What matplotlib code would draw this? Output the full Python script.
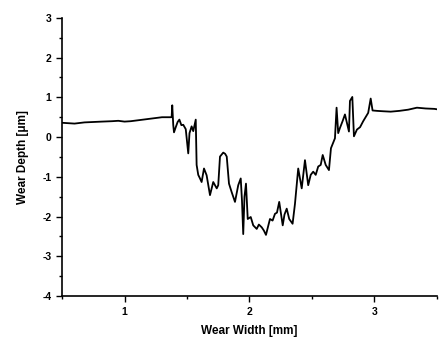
import numpy as np
import matplotlib
matplotlib.use('Agg')
import matplotlib.pyplot as plt
from matplotlib.ticker import MultipleLocator

plt.rcParams.update({
    'font.family': 'sans-serif',
    'font.sans-serif': ['Liberation Sans', 'DejaVu Sans'],
    'font.weight': 'bold',
    'font.size': 7.5,
    'axes.unicode_minus': False,
    'xtick.direction': 'out',
    'ytick.direction': 'out',
})

# wear profile (mm, um)
width_mm = [0.50, 0.55, 0.60, 0.68, 0.75, 0.82, 0.90, 0.95, 1.00, 1.05, 1.10, 1.15,
            1.20, 1.25, 1.30, 1.35, 1.377, 1.382, 1.39, 1.396, 1.41, 1.425, 1.439,
            1.455, 1.47, 1.49, 1.51, 1.52, 1.537, 1.55, 1.57, 1.577, 1.59, 1.604,
            1.617, 1.636, 1.657, 1.67, 1.684, 1.71, 1.738, 1.75, 1.764, 1.79, 1.805,
            1.818, 1.836, 1.857, 1.884, 1.91, 1.93, 1.94, 1.95, 1.96, 1.972, 1.986,
            2.01, 2.03, 2.058, 2.075, 2.098, 2.115, 2.132, 2.164, 2.185, 2.204,
            2.22, 2.238, 2.266, 2.28, 2.298, 2.318, 2.345, 2.364, 2.39, 2.418,
            2.444, 2.47, 2.49, 2.51, 2.53, 2.55, 2.57, 2.586, 2.61, 2.636, 2.652,
            2.684, 2.697, 2.71, 2.724, 2.745, 2.764, 2.796, 2.804, 2.823, 2.836,
            2.86, 2.885, 2.91, 2.95, 2.97, 2.985, 3.02, 3.07, 3.13, 3.20, 3.27,
            3.34, 3.41, 3.48, 3.50]
depth_um = [0.36, 0.35, 0.34, 0.37, 0.38, 0.39, 0.40, 0.41, 0.39, 0.40, 0.42, 0.44,
            0.46, 0.48, 0.50, 0.50, 0.50, 0.80, 0.30, 0.12, 0.25, 0.38, 0.44,
            0.30, 0.31, 0.20, -0.41, 0.10, 0.27, 0.15, 0.44, -0.70, -0.95, -1.04,
            -1.13, -0.79, -0.96, -1.20, -1.46, -1.13, -1.29, -1.21, -0.49, -0.39, -0.42,
            -0.49, -1.17, -1.38, -1.63, -1.21, -1.04, -1.60, -2.44, -1.50, -1.17, -2.06,
            -2.01, -2.22, -2.31, -2.20, -2.27, -2.35, -2.46, -2.06, -2.10, -1.93,
            -1.90, -1.63, -2.22, -1.95, -1.80, -2.06, -2.18, -1.68, -0.79, -1.29,
            -0.58, -1.21, -0.95, -0.87, -0.95, -0.74, -0.70, -0.45, -0.70, -0.83, -0.28,
            -0.03, 0.74, 0.10, 0.23, 0.40, 0.57, 0.14, 0.91, 1.01, 0.02,
            0.19, 0.25, 0.40, 0.61, 0.97, 0.67, 0.66, 0.65, 0.64, 0.66, 0.69,
            0.74, 0.72, 0.71, 0.70]

fig = plt.figure(figsize=(4.4, 3.5), dpi=100)
ax = fig.add_axes([0.141, 0.154, 0.852, 0.795])

ax.plot(width_mm, depth_um, '-', color='black', lw=1.3)

ax.set_xlim(0.5, 3.5)
ax.set_ylim(-4, 3)
ax.xaxis.set_major_locator(MultipleLocator(1))
ax.xaxis.set_minor_locator(MultipleLocator(0.5))
ax.yaxis.set_major_locator(MultipleLocator(1))
ax.yaxis.set_minor_locator(MultipleLocator(0.5))
ax.tick_params(which='major', length=4, width=1)
ax.tick_params(which='minor', length=2, width=1)

for s in ['top', 'right']:
    ax.spines[s].set_visible(False)
for s in ['left', 'bottom']:
    ax.spines[s].set_linewidth(1.2)

ax.set_xlabel('Wear Width [mm]', fontsize=8.5, fontweight='bold', labelpad=6)
ax.set_ylabel('Wear Depth [\u03bcm]', fontsize=8.5, fontweight='bold', labelpad=10)

plt.savefig('out.png', dpi=100)
